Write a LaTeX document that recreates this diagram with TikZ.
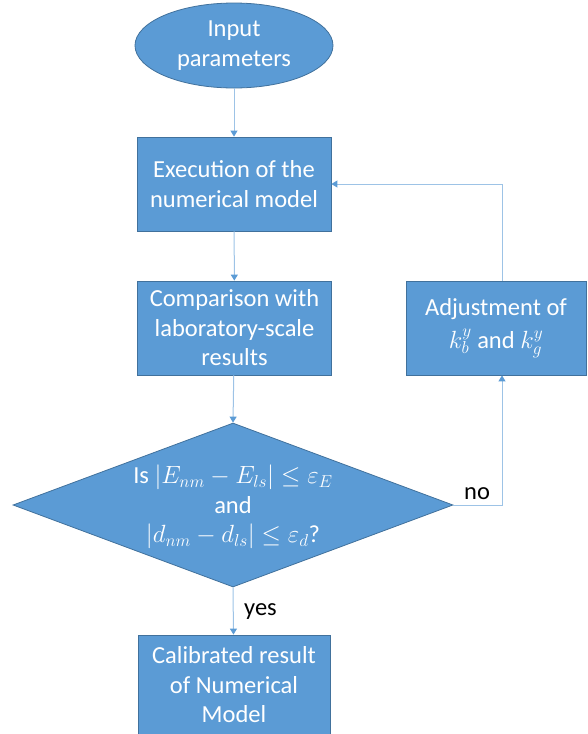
\documentclass[tikz,border=0pt]{standalone}
\usepackage{fontspec}
\setmainfont{Carlito}
\usetikzlibrary{shapes.geometric,arrows.meta}
\definecolor{boxfill}{HTML}{5B9BD5}
\definecolor{boxedge}{HTML}{41719C}
\definecolor{linkcol}{HTML}{9DC3E6}
\definecolor{tipcol}{HTML}{5B9BD5}
\tikzset{
  blockbox/.style={draw=boxedge, line width=0.8pt, fill=boxfill, text=white,
    align=center, inner sep=0pt, font=\fontsize{24.5}{29.5}\selectfont},
  procbox/.style={blockbox, rectangle, minimum width=194pt, minimum height=94pt},
  termbox/.style={blockbox, ellipse, minimum width=198pt, minimum height=85pt},
  decbox/.style={blockbox, diamond, minimum width=440pt, minimum height=164pt},
  dectext/.style={text=white, align=center, inner sep=0pt, font=\fontsize{24.5}{29.5}\selectfont},
  lbl/.style={text=black, inner sep=0pt, font=\fontsize{24.5}{29.5}\selectfont},
  link/.style={draw=linkcol, line width=1pt, -{Triangle[width=7pt,length=6pt,color=tipcol]}}
}
\begin{document}
\begin{tikzpicture}[x=1pt,y=-1pt]
\useasboundingbox (0,0) rectangle (587,734);
\node[termbox] (inp) at (234,45.5) {Input\\parameters};
\node[procbox] (exe) at (234,184) {Execution of the\\numerical model};
\node[procbox] (cmp) at (234.5,328) {Comparison with\\laboratory-scale\\results};
\node[decbox] (dec) at (233,505) {};
\node[dectext] (dect) at (233,507) {Is $|E_{nm}-E_{ls}|\le\varepsilon_E$\\and\\$|d_{nm}-d_{ls}|\le\varepsilon_d$?};
\node[procbox, minimum width=180pt] (adj) at (496,328) {Adjustment of\\[3pt]$k_b^y$ and $k_g^y$};
\node[procbox, minimum width=192pt, minimum height=100pt] (cal) at (234,685) {Calibrated result\\of Numerical\\Model};
\coordinate (c1) at (502,505);
\coordinate (c2) at (502,184);
\node[lbl, anchor=base west] (no) at (464,499) {no};
\node[lbl, anchor=base west] (yes) at (244,615) {yes};
\draw[link] (inp) -- (exe);
\draw[link] (exe) -- (cmp);
\draw[link] (cmp) -- (dec.north);
\draw[link] (dec.south) -- (cal);
\draw[link] (dec.east) -- (c1) -- (adj.south -| c1);
\draw[link] (adj.north -| c2) -- (c2) -- (exe.east);
\end{tikzpicture}
\end{document}
